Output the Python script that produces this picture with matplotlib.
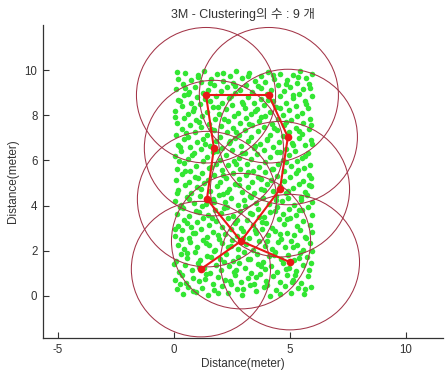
import matplotlib
matplotlib.use("Agg")
import matplotlib.pyplot as plt
from matplotlib.patches import Circle

# ---------------- data ----------------
title_text = "3M - Clustering의 수 : 9 개"
x_label = "Distance(meter)"
y_label = "Distance(meter)"
x_ticks = [-5, 0, 5, 10]
y_ticks = [0, 2, 4, 6, 8, 10]

# cluster heads
head_x = [1.38, 4.09, 4.91, 1.72, 4.57, 1.42, 2.89, 5.00, 1.16]
head_y = [8.89, 8.89, 7.04, 6.55, 4.73, 4.29, 2.43, 1.50, 1.19]
head_radius = [3.0] * 9
links = [(0, 1), (1, 2), (2, 4), (4, 6), (6, 7), (6, 8), (6, 5), (5, 3), (3, 0)]

# sensor nodes (estimated positions)
nodes_a = [
    (0.12,0.31),(0.38,0.08),(0.61,0.42),(0.93,0.17),(1.21,0.36),(1.47,0.05),(1.74,0.28),(2.09,0.44),(2.33,0.12),(2.71,0.33),(2.95,0.06),(3.26,0.47),(3.52,0.21),(3.88,0.39),(4.14,0.02),(4.41,0.26),(4.77,0.45),(5.03,0.14),(5.36,0.34),(5.62,0.09),(5.91,0.41),
    (0.05,0.72),(0.33,0.93),(0.52,0.58),(0.84,0.81),(1.09,0.66),(1.38,0.97),(1.66,0.54),(1.91,0.85),(2.18,0.71),(2.44,0.52),(2.62,0.94),(2.87,0.63),(3.17,0.79),(3.45,0.55),(3.69,0.98),(3.98,0.68),(4.27,0.87),(4.55,0.61),(4.86,0.92),(5.12,0.73),(5.48,0.57),(5.77,0.88),
    (0.21,1.08),(0.47,1.36),(0.76,1.14),(1.02,1.45),(1.29,1.22),(1.55,1.03),(1.83,1.39),(2.02,1.17),(2.36,1.31),(2.58,1.05),(2.81,1.48),(3.08,1.24),(3.34,1.02),(3.61,1.41),(3.92,1.19),(4.19,1.33),(4.46,1.07),(4.71,1.44),(4.98,1.26),(5.27,1.11),(5.55,1.38),(5.84,1.16),
    (0.08,1.57),(0.29,1.86),(0.58,1.69),(0.89,1.94),(1.14,1.61),(1.42,1.79),(1.71,1.98),(1.97,1.66),(2.24,1.88),(2.53,1.55),(2.76,1.73),(3.03,1.97),(3.29,1.64),(3.57,1.84),(3.82,1.52),(4.09,1.76),(4.37,1.95),(4.63,1.63),(4.92,1.81),(5.19,1.58),(5.45,1.91),(5.73,1.71),(5.96,1.99),
    (0.16,2.24),(0.43,2.07),(0.69,2.39),(0.97,2.15),(1.24,2.46),(1.51,2.28),(1.78,2.04),(2.06,2.35),(2.31,2.18),(2.49,2.49),(2.78,2.09),(3.12,2.31),(3.39,2.02),(3.66,2.43),(3.94,2.21),(4.22,2.06),(4.49,2.38),(4.79,2.17),(5.06,2.45),(5.31,2.26),(5.58,2.03),(5.87,2.34),
    (0.06,2.66),(0.35,2.91),(0.63,2.57),(0.91,2.78),(1.18,2.97),(1.44,2.62),(1.69,2.84),(1.96,2.53),(2.21,2.76),(2.47,2.95),(2.73,2.64),(2.99,2.87),(3.24,2.56),(3.53,2.79),(3.79,2.98),(4.06,2.68),(4.34,2.89),(4.61,2.54),(4.88,2.81),(5.16,2.69),(5.42,2.93),(5.71,2.59),(5.94,2.83),
    (0.19,3.12),(0.45,3.38),(0.72,3.04),(0.99,3.27),(1.27,3.47),(1.53,3.15),(1.81,3.33),(2.08,3.06),(2.34,3.44),(2.61,3.22),(2.88,3.01),(3.14,3.36),(3.41,3.13),(3.68,3.48),(3.96,3.25),(4.24,3.03),(4.51,3.39),(4.74,3.18),(5.01,3.46),(5.29,3.09),(5.57,3.31),(5.85,3.14),
    (0.11,3.63),(0.39,3.89),(0.66,3.54),(0.94,3.76),(1.21,3.97),(1.48,3.58),(1.76,3.82),(2.03,3.67),(2.29,3.93),(2.56,3.55),(2.83,3.78),(3.07,3.99),(3.36,3.61),(3.63,3.85),(3.89,3.52),(4.16,3.74),(4.44,3.95),(4.69,3.64),(4.96,3.87),(5.24,3.57),(5.51,3.79),(5.78,3.96),
    (0.03,4.21),(0.31,4.04),(0.57,4.37),(0.86,4.13),(1.13,4.42),(1.39,4.08),(1.67,4.29),(1.93,4.47),(2.19,4.16),(2.46,4.34),(2.74,4.02),(3.01,4.26),(3.27,4.45),(3.55,4.11),(3.83,4.32),(4.11,4.06),(4.38,4.41),(4.64,4.19),(4.91,4.36),(5.18,4.03),(5.46,4.24),(5.74,4.49),(5.97,4.15),
    (0.18,4.68),(0.46,4.92),(0.73,4.56),(1.01,4.81),(1.28,4.99),(1.56,4.64),(1.84,4.87),(2.11,4.53),(2.38,4.76),(2.64,4.96),(2.92,4.61),(3.19,4.84),(3.47,4.55),(3.74,4.73),(4.02,4.97),(4.29,4.66),(4.56,4.89),(4.84,4.58),(5.11,4.79),(5.39,4.94),(5.66,4.62),(5.92,4.85),
    (0.09,5.13),(0.36,5.38),(0.64,5.06),(0.92,5.27),(1.19,5.46),(1.46,5.12),(1.73,5.34),(1.99,5.03),(2.26,5.24),(2.54,5.45),(2.81,5.16),(3.09,5.37),(3.36,5.04),(3.62,5.28),(3.91,5.48),(4.18,5.14),(4.46,5.33),(4.73,5.07),(5.02,5.26),(5.28,5.44),(5.55,5.11),(5.83,5.36),
    (0.14,5.62),(0.41,5.88),(0.68,5.54),(0.96,5.77),(1.23,5.98),(1.51,5.66),(1.79,5.86),(2.05,5.57),(2.33,5.79),(2.59,5.96),(2.86,5.63),(3.13,5.84),(3.39,5.55),(3.67,5.72),(3.94,5.94),(4.21,5.61),(4.48,5.83),(4.76,5.52),(5.04,5.74),(5.32,5.97),(5.59,5.65),(5.88,5.81),
    (0.04,6.18),(0.32,6.43),(0.59,6.07),(0.87,6.31),(1.15,6.49),(1.43,6.14),(1.69,6.37),(1.97,6.02),(2.23,6.26),(2.51,6.46),(2.79,6.11),(3.06,6.34),(3.33,6.05),(3.59,6.28),(3.87,6.47),(4.14,6.16),(4.42,6.39),(4.68,6.03),(4.95,6.24),(5.23,6.44),(5.51,6.12),(5.79,6.33),
    (0.17,6.69),(0.44,6.93),(0.71,6.58),(0.98,6.82),(1.26,6.97),(1.54,6.63),(1.82,6.86),(2.09,6.54),(2.37,6.77),(2.63,6.99),(2.91,6.66),(3.18,6.88),(3.44,6.56),(3.72,6.74),(3.99,6.95),(4.27,6.61),(4.54,6.84),(4.82,6.53),(5.09,6.76),(5.37,6.98),(5.64,6.67),(5.91,6.89),
    (0.07,7.14),(0.34,7.39),(0.62,7.05),(0.89,7.28),(1.16,7.47),(1.44,7.11),(1.71,7.33),(1.98,7.06),(2.27,7.25),(2.53,7.44),(2.79,7.15),(3.05,7.37),(3.32,7.03),(3.61,7.29),(3.88,7.48),(4.15,7.13),(4.43,7.35),(4.71,7.08),(4.97,7.27),(5.26,7.46),(5.53,7.17),(5.81,7.38),
    (0.13,7.64),(0.41,7.87),(0.67,7.56),(0.95,7.78),(1.22,7.96),(1.49,7.62),(1.77,7.84),(2.04,7.53),(2.32,7.75),(2.58,7.98),(2.85,7.65),(3.12,7.86),(3.38,7.55),(3.66,7.77),(3.93,7.95),(4.21,7.63),(4.49,7.85),(4.75,7.57),(5.03,7.79),(5.31,7.97),(5.58,7.66),(5.86,7.83),
    (0.05,8.19),(0.33,8.42),(0.61,8.08),(0.88,8.31),(1.14,8.48),(1.42,8.15),(1.69,8.36),(1.96,8.04),(2.24,8.27),(2.52,8.45),(2.78,8.12),(3.04,8.33),(3.31,8.06),(3.58,8.29),(3.86,8.47),(4.13,8.16),(4.41,8.38),(4.68,8.02),(4.96,8.25),(5.24,8.43),(5.52,8.11),(5.79,8.34),
    (0.16,8.67),(0.43,8.91),(0.72,8.56),(0.99,8.79),(1.27,8.97),(1.55,8.63),(1.81,8.85),(2.08,8.54),(2.36,8.76),(2.64,8.98),(2.92,8.61),(3.19,8.83),(3.46,8.55),(3.73,8.74),(4.01,8.94),(4.28,8.64),(4.56,8.87),(4.83,8.53),(5.11,8.78),(5.38,8.96),(5.66,8.62),(5.93,8.84),
    (0.08,9.16),(0.37,9.38),(0.63,9.04),(0.91,9.27),(1.18,9.46),(1.46,9.12),(1.74,9.34),(2.01,9.07),(2.28,9.24),(2.55,9.43),(2.83,9.13),(3.11,9.36),(3.37,9.02),(3.64,9.29),(3.92,9.48),(4.19,9.14),(4.47,9.33),(4.74,9.06),(5.02,9.26),(5.29,9.45),(5.57,9.15),(5.84,9.37),
    (0.19,9.63),(0.46,9.87),(0.74,9.55),(1.03,9.78),(1.31,9.95),(1.58,9.61),(1.86,9.84),(2.12,9.53),(2.41,9.76),(2.68,9.97),(2.94,9.64),(3.22,9.86),(3.49,9.54),(3.77,9.73),(4.04,9.93),(4.32,9.62),(4.59,9.85),(4.87,9.56),(5.14,9.77),(5.42,9.96),(5.69,9.65),(5.96,9.82),
]
nodes_b = [
    (0.27,0.55),(0.81,0.22),(1.33,0.77),(1.88,0.12),(2.41,0.68),(2.97,0.31),(3.52,0.84),(4.03,0.47),(4.58,0.11),(5.09,0.62),(5.64,0.29),(5.21,0.95),
    (0.02,1.42),(0.55,1.91),(1.07,1.28),(1.61,1.73),(2.14,1.49),(2.69,1.17),(3.21,1.62),(3.76,1.34),(4.31,1.83),(4.84,1.21),(5.37,1.69),(5.90,1.47),
    (0.29,2.52),(0.84,2.81),(1.36,2.33),(1.91,2.69),(2.45,2.22),(2.98,2.58),(3.49,2.91),(4.02,2.44),(4.57,2.73),(5.12,2.17),(5.66,2.62),(0.03,2.96),
    (0.57,3.23),(1.09,3.71),(1.63,3.46),(2.17,3.88),(2.71,3.36),(3.26,3.69),(3.81,3.27),(4.35,3.77),(4.88,3.41),(5.41,3.83),(5.93,3.59),(0.24,3.95),
    (0.11,4.57),(0.66,4.28),(1.18,4.73),(1.72,4.18),(2.27,4.61),(2.79,4.91),(3.33,4.38),(3.87,4.69),(4.39,4.23),(4.93,4.64),(5.47,4.39),(5.81,4.92),
    (0.49,5.52),(1.04,5.21),(1.58,5.73),(2.12,5.36),(2.66,5.84),(3.21,5.49),(3.74,5.19),(4.29,5.64),(4.81,5.92),(5.35,5.58),(5.89,5.23),(0.21,5.97),
    (0.26,6.59),(0.79,6.24),(1.32,6.71),(1.86,6.43),(2.42,6.88),(2.95,6.31),(3.48,6.63),(4.03,6.92),(4.57,6.37),(5.11,6.69),(5.63,6.21),(5.97,6.73),
    (0.51,7.22),(1.06,7.69),(1.59,7.39),(2.14,7.83),(2.67,7.26),(3.22,7.61),(3.76,7.92),(4.31,7.44),(4.84,7.72),(5.39,7.31),(5.92,7.58),(0.03,7.91),
    (0.27,8.63),(0.83,8.21),(1.35,8.72),(1.89,8.38),(2.44,8.86),(2.97,8.49),(3.51,8.19),(4.06,8.69),(4.59,8.33),(5.14,8.91),(5.68,8.52),(0.61,8.94),
    (0.49,9.22),(1.02,9.69),(1.57,9.41),(2.11,9.89),(2.65,9.32),(3.19,9.74),(3.73,9.19),(4.27,9.79),(4.81,9.37),(5.34,9.71),(5.87,9.21),(0.12,9.92),
]

# ---------------- figure ----------------
W, H = 446, 373
fig = plt.figure(figsize=(W / 100, H / 100), dpi=100)
fig.patch.set_facecolor("white")
left, right, top, bottom = 43, 443, 25, 338
ax = fig.add_axes([left / W, (H - bottom) / H, (right - left) / W, (bottom - top) / H])
ax.set_xlim(-5.65, 11.6)
ax.set_ylim(-1.86, 12.0)

nodes = nodes_a + nodes_b
ax.plot([p[0] for p in nodes], [p[1] for p in nodes], linestyle="none",
        marker="o", markersize=4.0, markeredgewidth=0, color="#33e633", zorder=1)

for cx, cy, r in zip(head_x, head_y, head_radius):
    ax.add_patch(Circle((cx, cy), r, fill=False, edgecolor="#a33548", linewidth=0.75, zorder=2))

for a, b in links:
    ax.plot([head_x[a], head_x[b]], [head_y[a], head_y[b]], color="#e81818", linewidth=1.5, zorder=3)
ax.plot(head_x, head_y, linestyle="none", marker="o", markersize=5.5, color="#e81818",
        markeredgewidth=0, zorder=4)

for s in ["top", "right"]:
    ax.spines[s].set_visible(False)
for s in ["left", "bottom"]:
    ax.spines[s].set_color("#333333")
    ax.spines[s].set_linewidth(0.9)

tick_font = dict(family=["Liberation Sans", "DejaVu Sans"], size=8.3, color="#333333")
ax.set_xticks(x_ticks)
ax.set_yticks(y_ticks)
ax.set_xticklabels([str(t) for t in x_ticks], **tick_font)
ax.set_yticklabels([str(t) for t in y_ticks], **tick_font)
ax.tick_params(direction="in", length=4, width=0.8, color="#333333", pad=4)

ax.set_xlabel(x_label, family=["Liberation Sans", "DejaVu Sans"], size=8.5, color="#333333", labelpad=2)
ax.set_ylabel(y_label, family=["Liberation Sans", "DejaVu Sans"], size=8.5, color="#333333", labelpad=4)
ax.set_title(title_text, family=["Liberation Sans", "Noto Sans CJK KR", "DejaVu Sans"], size=9,
             color="#333333", pad=5)

fig.savefig("out.png", dpi=100, facecolor="white")
